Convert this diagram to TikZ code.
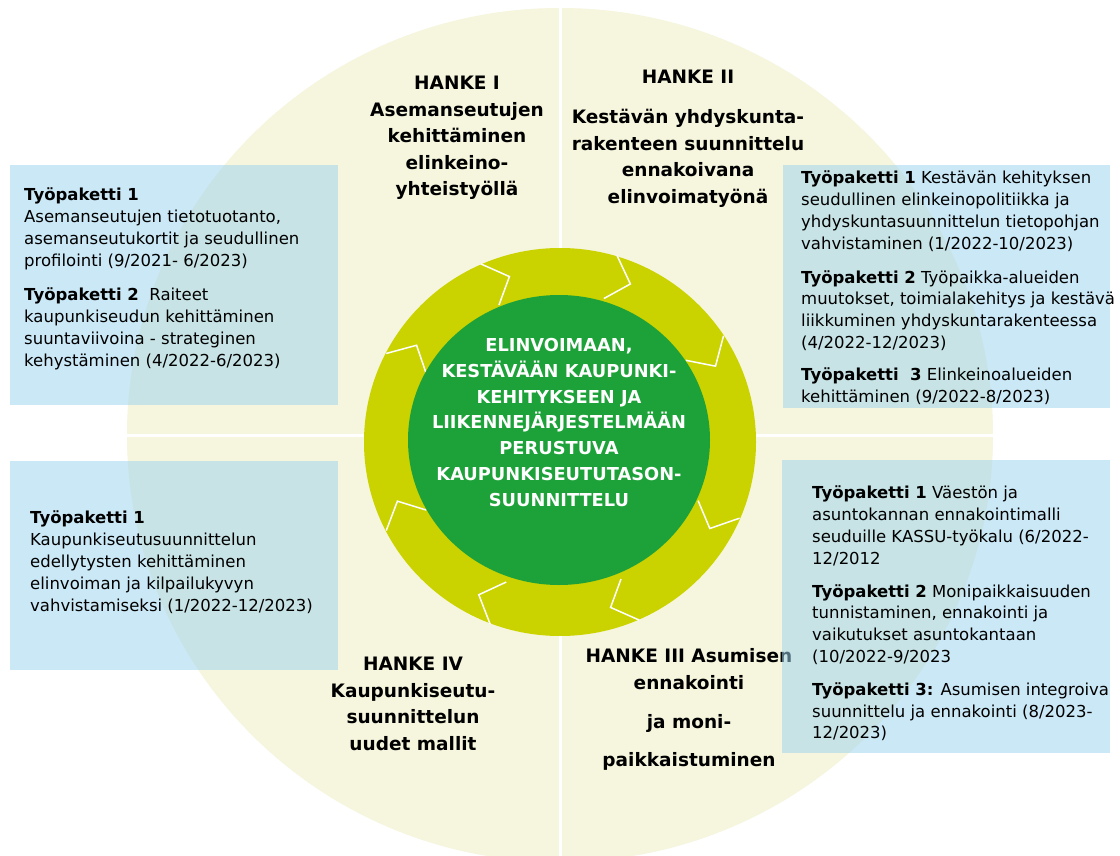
\documentclass[tikz,border=0pt]{standalone}
\usepackage{fontspec}
\setmainfont{DejaVu Sans}
\usetikzlibrary{calc}
\definecolor{cream}{HTML}{F6F5DD}
\definecolor{ringgreen}{HTML}{CAD300}
\definecolor{coregreen}{HTML}{1DA23A}
\definecolor{boxblue}{RGB}{157,211,238}

\begin{document}
\begin{tikzpicture}[x=1pt,y=1pt,
	wptext/.style={align=left, anchor=north west, inner sep=0pt, font=\fontsize{16.5}{21.8}\selectfont},
	hanke/.style={align=center, inner sep=0pt, font=\bfseries\fontsize{18.5}{26.5}\selectfont},
	coretext/.style={align=center, inner sep=0pt, text=white, font=\bfseries\fontsize{17.8}{25.8}\selectfont},
	pbox/.style={fill=boxblue, fill opacity=0.52}]
	\useasboundingbox (0,0) rectangle (1120,-856);
	\fill[white] (0,0) rectangle (1120,-856);
	\coordinate (mid) at (560,-435);
	\coordinate (ctr) at (560,-442);
	% background disc and quadrants
	\fill[cream] (mid) ellipse[x radius=433pt, y radius=427pt];
	\draw[white, line width=3pt] ($(mid)+(0,428)$) -- ($(mid)+(0,-428)$);
	\draw[white, line width=3pt] ($(mid)+(-434,0)$) -- ($(mid)+(434,0)$);
	% arrow ring
	\begin{scope}[shift={(ctr)}]
		\fill[ringgreen] (0,0) ellipse[x radius=196pt, y radius=194pt];
		\foreach \a in {146,107,66,26,-30,-73,-118,-160}{
			\draw[white, line width=1.5pt] (\a+7:195pt) -- (\a:173pt) -- (\a+7:150pt);
		}
		\fill[coregreen] (-1,2) ellipse[x radius=151pt, y radius=145pt];
	\end{scope}
	\node[coretext] (core) at (559,-422.5) {ELINVOIMAAN,\\KESTÄVÄÄN KAUPUNKI-\\KEHITYKSEEN JA\\LIIKENNEJÄRJESTELMÄÄN\\PERUSTUVA\\KAUPUNKISEUTUTASON-\\SUUNNITTELU};
	% projects
	\node[hanke] (h1) at (457,-138) {HANKE I\\Asemanseutujen\\kehittäminen\\elinkeino-\\yhteistyöllä};
	\node[hanke] (h2) at (688,-139) {HANKE II\\[13.5pt]Kestävän yhdyskunta-\\rakenteen suunnittelu\\ennakoivana\\elinvoimatyönä};
	\node[hanke] (h3) at (689,-709.5) {HANKE III Asumisen\\ennakointi\\[13pt]ja moni-\\[11pt]paikkaistuminen};
	\node[hanke] (h4) at (413,-704) {HANKE IV\\Kaupunkiseutu-\\suunnittelun\\uudet mallit};
	% work packages
	\fill[pbox] (10,-165) rectangle (338,-405);
	\fill[pbox] (783,-165) rectangle (1110,-408);
	\fill[pbox] (10,-461) rectangle (338,-670);
	\fill[pbox] (782,-460) rectangle (1110,-753);
	\node[wptext] (wp1) at (24,-188) {\textbf{Työpaketti 1}\\Asemanseutujen tietotuotanto,\\asemanseutukortit ja seudullinen\\profilointi (9/2021- 6/2023)\\[12.5pt]
		\textbf{Työpaketti 2}\ \ Raiteet\\kaupunkiseudun kehittäminen\\suuntaviivoina - strateginen\\kehystäminen (4/2022-6/2023)};
	\node[wptext] (wp2) at (801,-171) {\textbf{Työpaketti 1} Kestävän kehityksen\\seudullinen elinkeinopolitiikka ja\\yhdyskuntasuunnittelun tietopohjan\\vahvistaminen (1/2022-10/2023)\\[12pt]
		\textbf{Työpaketti 2} Työpaikka-alueiden\\muutokset, toimialakehitys ja kestävä\\liikkuminen yhdyskuntarakenteessa\\(4/2022-12/2023)\\[10pt]
		\textbf{Työpaketti\ \ 3} Elinkeinoalueiden\\kehittäminen (9/2022-8/2023)};
	\node[wptext] (wp4) at (30,-511) {\textbf{Työpaketti 1}\\Kaupunkiseutusuunnittelun\\edellytysten kehittäminen\\elinvoiman ja kilpailukyvyn\\vahvistamiseksi (1/2022-12/2023)};
	\node[wptext] (wp3) at (812,-486) {\textbf{Työpaketti 1} Väestön ja\\asuntokannan ennakointimalli\\seuduille KASSU-työkalu (6/2022-\\12/2012\\[11pt]
		\textbf{Työpaketti 2} Monipaikkaisuuden\\tunnistaminen, ennakointi ja\\vaikutukset asuntokantaan\\(10/2022-9/2023\\[11pt]
		\textbf{Työpaketti 3:} Asumisen integroiva\\suunnittelu ja ennakointi (8/2023-\\12/2023)};
\end{tikzpicture}
\end{document}
